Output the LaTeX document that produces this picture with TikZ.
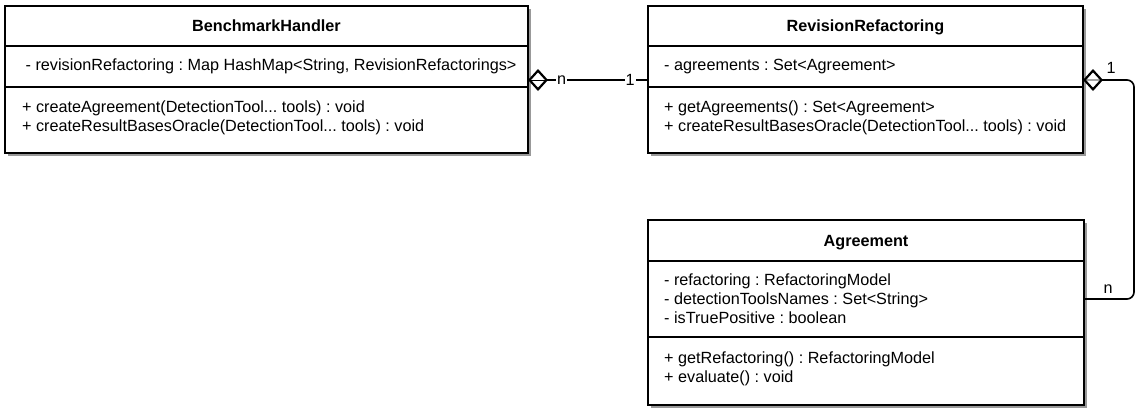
\documentclass[tikz,border=0pt]{standalone}
\usepackage{fontspec}
\setmainfont{Liberation Sans}
\usetikzlibrary{arrows.meta}
\usetikzlibrary{positioning}
\usetikzlibrary{shadows}
\tikzset{part/.style = {draw, fill=white, line width=1.6pt, inner sep=0, outer sep=0, text depth=0pt,
                        drop shadow={shadow xshift=3pt, shadow yshift=-3pt,
                                     fill=black!40, opacity=1}}}
\tikzset{members/.style = {align=left, inner sep=0}}
\tikzset{assoc/.style = {line width=1.6pt, {Diamond[open, length=20pt, width=22pt, line width=2.2pt]}-,
                         postaction={draw, -, line width=0.8pt}}}
\tikzset{mult/.style = {fill=white, inner sep=1pt}}

\begin{document}
\frenchspacing
\begin{tikzpicture}[x=1pt, y=1pt, font=\fontsize{16.2}{19}\selectfont]
  \useasboundingbox (0, 0) rectangle (1136, -410);

  % BenchmarkHandler
  \node [part, anchor=north west, minimum width=523pt, minimum height=40pt] (bh) at (5, -6) {\textbf{BenchmarkHandler}};
  \node [part, below right=0pt and 0pt of bh.south west, minimum width=523pt, minimum height=41pt] (bhattr) {};
  \node [part, below right=0pt and 0pt of bhattr.south west, minimum width=523pt, minimum height=66pt] (bhops) {};
  \node [members, right=16pt of bhattr.west] {~- revisionRefactoring : Map HashMap<String, RevisionRefactorings>};
  \node [members, below right=14pt and 17pt of bhops.north west] {+ createAgreement(DetectionTool... tools) : void\\+ createResultBasesOracle(DetectionTool... tools) : void};

  % RevisionRefactoring
  \node [part, anchor=north west, minimum width=435pt, minimum height=40pt] (rr) at (648, -6) {\textbf{RevisionRefactoring}};
  \node [part, below right=0pt and 0pt of rr.south west, minimum width=435pt, minimum height=41pt] (rrattr) {};
  \node [part, below right=0pt and 0pt of rrattr.south west, minimum width=435pt, minimum height=66pt] (rrops) {};
  \node [members, right=16pt of rrattr.west] {- agreements : Set<Agreement>};
  \node [members, below right=14pt and 16pt of rrops.north west] {+ getAgreements() : Set<Agreement>\\+ createResultBasesOracle(DetectionTool... tools) : void};

  % Agreement
  \node [part, anchor=north west, minimum width=436pt, minimum height=41pt] (ag) at (648, -220) {\textbf{Agreement}};
  \node [part, below right=0pt and 0pt of ag.south west, minimum width=436pt, minimum height=76pt] (agattr) {};
  \node [part, below right=0pt and 0pt of agattr.south west, minimum width=436pt, minimum height=68pt] (agops) {};
  \node [members, right=16pt of agattr.west] {- refactoring : RefactoringModel\\- detectionToolsNames : Set<String>\\- isTruePositive : boolean};
  \node [members, below right=15pt and 16pt of agops.north west] {+ getRefactoring() : RefactoringModel\\+ evaluate() : void};

  % associations
  \draw [assoc] ([yshift=7pt]bhattr.south east) -- ([yshift=7pt]rrattr.south west)
    node [mult, pos=0.28] {n} node [mult, pos=0.85] {1};
  \draw [assoc, rounded corners=7pt] ([yshift=7pt]rrattr.south east) -- ++(51, 0)
    node [above=2pt, pos=0.55] {1} |- (agattr.east) node [above=1pt, pos=0.76] {n};
\end{tikzpicture}
\end{document}
